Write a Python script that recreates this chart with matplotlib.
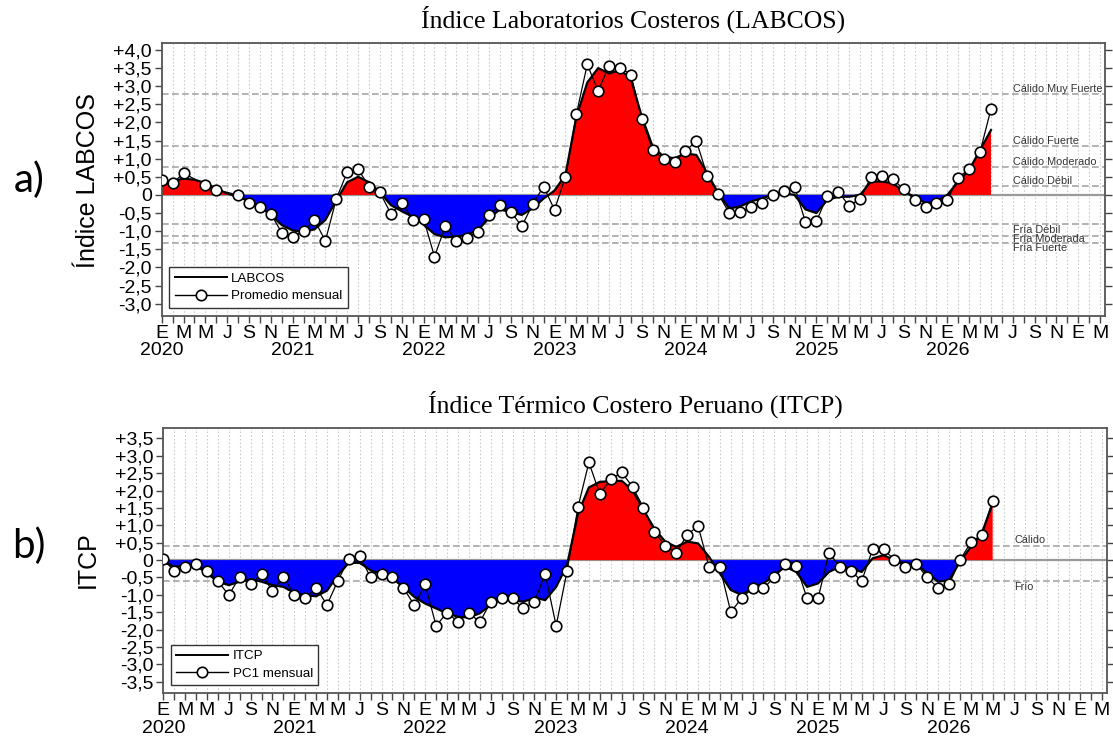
import numpy as np
import matplotlib
matplotlib.use('Agg')
import matplotlib.pyplot as plt
from matplotlib.lines import Line2D
from matplotlib.ticker import FixedLocator, FuncFormatter
import matplotlib.transforms as mtransforms

# ---------------- data (month index 0 = Enero 2020) ----------------
month_letters = ['E', 'M', 'M', 'J', 'S', 'N']
years = ['2020', '2021', '2022', '2023', '2024', '2025', '2026']

labcos_monthly = [0.41, 0.32, 0.60, None, 0.28, 0.14, None, 0.00, -0.21, -0.32,
                  -0.52, -1.04, -1.17, -0.99, -0.69, -1.27, -0.11, 0.63, 0.71, 0.23,
                  0.07, -0.52, -0.22, -0.69, -0.66, -1.70, -0.86, -1.27, -1.18, -1.01,
                  -0.55, -0.28, -0.46, -0.87, -0.25, 0.23, -0.41, 0.50, 2.22, 3.60,
                  2.87, 3.56, 3.51, 3.32, 2.09, 1.24, 0.99, 0.92, 1.21, 1.49,
                  0.53, 0.03, -0.49, -0.48, -0.34, -0.21, 0.00, 0.12, 0.23, -0.75,
                  -0.73, -0.03, 0.09, -0.30, -0.11, 0.49, 0.51, 0.43, 0.16, -0.14,
                  -0.32, -0.23, -0.14, 0.48, 0.71, 1.19, 2.37]
labcos_smooth = [0.27, 0.38, 0.45, 0.42, 0.33, 0.17, 0.04, -0.05, -0.17, -0.33,
                 -0.55, -0.83, -0.98, -1.02, -0.95, -0.69, -0.15, 0.35, 0.50, 0.35,
                 0.07, -0.28, -0.45, -0.60, -0.82, -1.08, -1.17, -1.15, -1.10, -0.96,
                 -0.64, -0.40, -0.48, -0.55, -0.37, -0.10, 0.12, 0.55, 2.15, 3.10,
                 3.50, 3.35, 3.45, 3.20, 2.16, 1.33, 1.06, 1.01, 1.15, 1.10,
                 0.60, 0.05, -0.37, -0.32, -0.18, -0.09, 0.00, 0.05, 0.00, -0.40,
                 -0.50, -0.14, -0.05, -0.05, 0.00, 0.37, 0.37, 0.32, 0.09, -0.05,
                 -0.23, -0.18, 0.00, 0.37, 0.69, 1.24, 1.79]

itcp_monthly = [0.03, -0.31, -0.19, -0.10, -0.31, -0.60, -1.01, -0.48, -0.70, -0.40,
                -0.89, -0.48, -0.99, -1.10, -0.79, -1.29, -0.59, 0.03, 0.12, -0.50,
                -0.40, -0.50, -0.80, -1.29, -0.70, -1.89, -1.51, -1.77, -1.51, -1.79,
                -1.20, -1.10, -1.10, -1.39, -1.20, -0.40, -1.89, -0.31, 1.52, 2.81,
                1.90, 2.32, 2.52, 2.11, 1.51, 0.81, 0.41, 0.21, 0.72, 0.99,
                -0.19, -0.19, -1.49, -1.10, -0.80, -0.80, -0.50, -0.10, -0.17, -1.10,
                -1.10, 0.21, -0.19, -0.31, -0.60, 0.31, 0.32, 0.00, -0.19, -0.10,
                -0.50, -0.80, -0.70, 0.00, 0.51, 0.72, 1.71]
itcp_smooth = [-0.05, -0.19, -0.17, -0.15, -0.38, -0.62, -0.72, -0.62, -0.55, -0.62,
               -0.72, -0.77, -0.94, -1.01, -1.04, -0.88, -0.43, -0.08, -0.08, -0.29,
               -0.40, -0.53, -0.77, -1.06, -1.25, -1.39, -1.53, -1.63, -1.65, -1.53,
               -1.29, -1.12, -1.15, -1.20, -1.08, -1.15, -0.77, -0.14, 1.34, 2.09,
               2.25, 2.27, 2.28, 2.01, 1.44, 0.91, 0.53, 0.38, 0.53, 0.48,
               0.10, -0.38, -0.86, -1.00, -0.81, -0.67, -0.43, -0.19, -0.34, -0.77,
               -0.67, -0.34, -0.19, -0.24, -0.34, 0.05, 0.14, 0.00, -0.10, -0.11,
               -0.38, -0.62, -0.58, -0.05, 0.38, 0.77, 1.63]

labcos_thr = [2.78, 1.36, 0.77, 0.26, -0.81, -1.12, -1.33]
labcos_thr_names = ['Cálido Muy Fuerte', 'Cálido Fuerte', 'Cálido Moderado', 'Cálido Débil',
                    'Fría Débil', 'Fría Moderada', 'Fría Fuerte']
itcp_thr = [0.40, -0.60]
itcp_thr_names = ['Cálido', 'Frío']

# ---------------- style ----------------
SANS = ['Liberation Sans', 'DejaVu Sans']
SERIF = ['Liberation Serif', 'DejaVu Serif']
plt.rcParams['font.family'] = SANS

fig = plt.figure(figsize=(11.13, 7.47), dpi=100)
W, H = 1113, 747


def ax_rect(l, t, r, b):
    return [l / W, 1 - b / H, (r - l) / W, (b - t) / H]


def yfmt(v, pos):
    if abs(v) < 1e-9:
        return '0'
    return ('%+.1f' % v).replace('.', ',')


def panel(ax, monthly, smooth, thr, names, ylim, ytop, ybot, line_lab, pts_lab, title,
          label_offsets):
    n_months = 87
    m = np.arange(len(smooth))
    s = np.array(smooth, dtype=float)
    # vertical monthly grid
    for k in range(n_months):
        ax.axvline(k, color='#cdcdcd', lw=0.8, ls=(0, (1.5, 1.8)), zorder=0)
    # threshold lines
    for v, nm, off in zip(thr, names, label_offsets):
        ax.axhline(v, color='#a6a6a6', lw=1.2, ls=(0, (4, 2)), zorder=1)
        ax.annotate(nm, xy=(78, v), xytext=(0, off), textcoords='offset pixels',
                    ha='left', va='center', fontsize=7.8, color='#333333', zorder=5)
    ax.axhline(0, color='#9a9a9a', lw=1.6, zorder=2)
    ax.fill_between(m, s, 0, where=s >= 0, interpolate=True, color='#ff0000', lw=0, zorder=2)
    ax.fill_between(m, s, 0, where=s <= 0, interpolate=True, color='#0000ff', lw=0, zorder=2)
    ax.plot(m, s, color='black', lw=1.6, zorder=3)
    mm = [i for i, v in enumerate(monthly) if v is not None]
    vv = [monthly[i] for i in mm]
    ax.plot(mm, vv, color='black', lw=0.9, marker='o', ms=7.6, mfc='white',
            mec='black', mew=1.2, zorder=4)

    ax.set_xlim(0, 86.45)
    ax.set_ylim(*ylim)
    ax.yaxis.set_major_locator(FixedLocator(np.arange(ybot, ytop + 0.01, 0.5)))
    ax.yaxis.set_major_formatter(FuncFormatter(yfmt))
    ax.xaxis.set_major_locator(FixedLocator(np.arange(0, n_months, 2)))
    ax.xaxis.set_minor_locator(FixedLocator(np.arange(0, n_months, 1)))
    ax.set_xticklabels([month_letters[(k // 2) % 6] for k in range(0, n_months, 2)],
                       fontsize=14)
    ax.tick_params(axis='x', which='both', direction='out', length=5, width=1,
                   color='#444444', pad=1.5)
    ax.tick_params(axis='y', which='major', direction='out', length=5, width=1,
                   color='#444444', labelsize=14, pad=2, right=True)
    for sp in ax.spines.values():
        sp.set_color('#555555')
        sp.set_linewidth(1.3)
    trans = mtransforms.blended_transform_factory(ax.transData, ax.transAxes)
    for i, yr in enumerate(years):
        ax.annotate(yr, xy=(12 * i, 0), xycoords=trans, xytext=(0, -35),
                    textcoords='offset pixels', ha='center', va='center', fontsize=14)
    handles = [Line2D([], [], color='black', lw=1.4),
               Line2D([], [], color='black', lw=1.0, marker='o', ms=7.5, mfc='white',
                      mec='black', mew=1.2)]
    leg = ax.legend(handles, [line_lab, pts_lab], loc='lower left',
                    bbox_to_anchor=(0.008, 0.03), borderaxespad=0, fontsize=9.6,
                    handlelength=3.9, fancybox=False, framealpha=1,
                    edgecolor='#333333', borderpad=0.4, labelspacing=0.4,
                    handletextpad=0.35)
    leg.get_frame().set_linewidth(1.0)
    leg.set_zorder(6)
    ax.set_title(title, fontsize=18.5, family=SERIF, pad=11)


ax1 = fig.add_axes(ax_rect(161.7, 42.7, 1105, 316))
panel(ax1, labcos_monthly, labcos_smooth, labcos_thr, labcos_thr_names,
      (-3.34, 4.2), 4.0, -3.0, 'LABCOS', 'Promedio mensual',
      'Índice Laboratorios Costeros (LABCOS)', [5, 5, 5, 5, -6, -3.5, -4.5])

ax2 = fig.add_axes(ax_rect(163.3, 428.3, 1106.7, 693.3))
panel(ax2, itcp_monthly, itcp_smooth, itcp_thr, itcp_thr_names,
      (-3.83, 3.79), 3.5, -3.5, 'ITCP', 'PC1 mensual',
      'Índice Térmico Costero Peruano (ITCP)', [6, -6])

fig.text(88 / W, 1 - 180 / H, 'Índice LABCOS', rotation=90, ha='center', va='center',
         fontsize=18)
fig.text(88 / W, 1 - 560 / H, 'ITCP', rotation=90, ha='center', va='center', fontsize=18)
fig.text(29 / W, 1 - 180 / H, 'a)', ha='center', va='center', fontsize=29,
         family=['Lato', 'DejaVu Sans'])
fig.text(29 / W, 1 - 546 / H, 'b)', ha='center', va='center', fontsize=29,
         family=['Lato', 'DejaVu Sans'])

fig.savefig('out.png', dpi=100)
